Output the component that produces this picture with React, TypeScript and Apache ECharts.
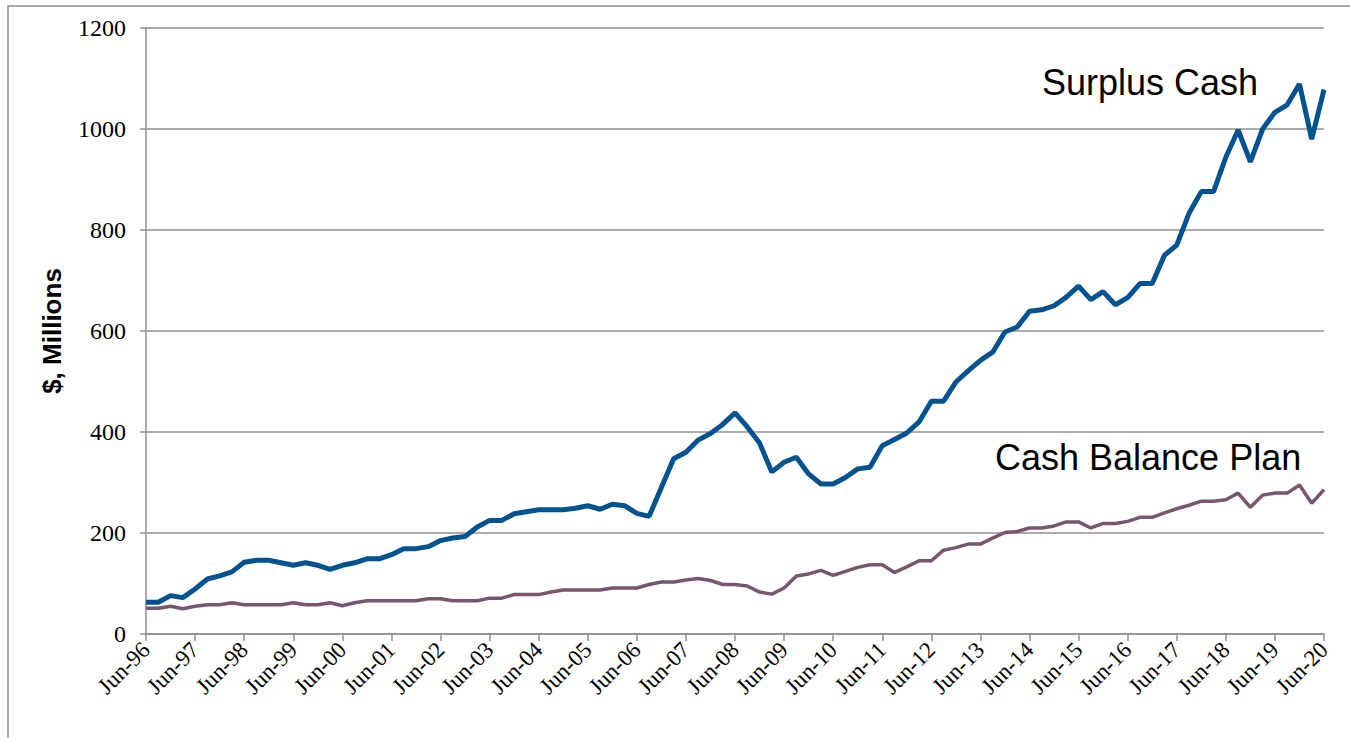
import React, { useEffect, useRef } from "react";
import * as echarts from "echarts";

const MONTHS = ["Jun", "Sep", "Dec", "Mar"];
const START_YEAR = 1996;
const QUARTER_COUNT = 97;

const categories: string[] = [];
for (let i = 0; i < QUARTER_COUNT; i++) {
  const m = MONTHS[i % 4];
  const y = m === "Mar" ? START_YEAR + Math.floor(i / 4) + 1 : START_YEAR + Math.floor(i / 4);
  categories.push(`${m}-${String(y % 100).padStart(2, "0")}`);
}

const surplusCash = [
  63, 63, 76, 72, 89, 109, 115, 123, 142, 146, 146, 141, 136, 141, 136, 128,
  136, 141, 149, 149, 157, 169, 169, 173, 185, 190, 193, 212, 225, 225, 238, 242,
  246, 246, 246, 249, 254, 247, 257, 254, 239, 233, 290, 347, 360, 384, 397, 415,
  438, 410, 378, 321, 340, 350, 317, 297, 297, 310, 327, 330, 373, 385, 398, 420,
  461, 461, 499, 521, 542, 558, 598, 608, 639, 642, 650, 667, 689, 662, 678, 652,
  666, 694, 694, 750, 770, 833, 876, 876, 944, 998, 935, 1000, 1033, 1048, 1089, 980,
  1078,
];

const cashBalancePlan = [
  51, 51, 55, 50, 55, 58, 58, 62, 58, 58, 58, 58, 62, 58, 58, 62,
  56, 62, 66, 66, 66, 66, 66, 70, 70, 66, 66, 66, 71, 71, 78, 78,
  78, 83, 87, 87, 87, 87, 91, 91, 91, 98, 103, 103, 107, 110, 106, 98,
  98, 95, 83, 79, 91, 115, 119, 126, 116, 124, 132, 137, 137, 122, 133, 145,
  145, 166, 171, 178, 178, 190, 201, 203, 210, 210, 214, 222, 222, 210, 219, 219,
  223, 231, 231, 240, 248, 255, 263, 263, 266, 279, 251, 275, 279, 279, 295, 259,
  286,
];

const Y_TICKS = [0, 200, 400, 600, 800, 1000, 1200];
const SERIES_NAMES = ["Surplus Cash", "Cash Balance Plan"];
const Y_TITLE = "$, Millions";

export default function App() {
  const ref = useRef<HTMLDivElement>(null);
  useEffect(() => {
    document.body.style.margin = "0";
    if (!ref.current) return;
    const chart = echarts.init(ref.current, undefined, { renderer: "svg" });
    const gridColor = "#8f8f8f";
    const serif = "'Liberation Serif', 'Times New Roman', serif";
    chart.setOption({
      animation: false,
      backgroundColor: "#ffffff",
      textStyle: { fontFamily: serif, fontSize: 24, color: "#000" },
      grid: { left: 146, right: 26, top: 28, bottom: 104, containLabel: false },
      xAxis: {
        type: "category",
        data: categories,
        boundaryGap: false,
        axisLine: { lineStyle: { color: gridColor, width: 1.5 } },
        axisTick: { show: true, interval: 3, length: 7, lineStyle: { color: gridColor, width: 1.5 } },
        axisLabel: {
          show: true,
          interval: 3,
          rotate: 45,
          margin: 12,
          color: "#000",
          fontFamily: serif,
          fontSize: 23,
        },
        splitLine: { show: false },
      },
      yAxis: {
        type: "value",
        min: Y_TICKS[0],
        max: Y_TICKS[Y_TICKS.length - 1],
        interval: 200,
        axisLine: { show: true, lineStyle: { color: gridColor, width: 1.5 } },
        axisTick: { show: true, length: 6, lineStyle: { color: gridColor, width: 1.5 } },
        axisLabel: {
          show: true,
          margin: 20,
          color: "#000",
          fontFamily: serif,
          fontSize: 24,
          formatter: (v: number) => String(v),
        },
        splitLine: { show: true, lineStyle: { color: gridColor, width: 1.5 } },
      },
      series: [
        {
          name: SERIES_NAMES[0],
          type: "line",
          data: surplusCash,
          showSymbol: false,
          symbol: "none",
          lineStyle: { color: "#00538F", width: 5 },
          z: 3,
        },
        {
          name: SERIES_NAMES[1],
          type: "line",
          data: cashBalancePlan,
          showSymbol: false,
          symbol: "none",
          lineStyle: { color: "#765670", width: 3.5 },
          z: 2,
        },
      ],
      graphic: [
        {
          type: "rect",
          shape: { x: 8, y: 6, width: 1500, height: 900 },
          style: { fill: "none", stroke: "#8f8f8f", lineWidth: 1.5 },
          silent: true,
          z: -1,
        },
        {
          type: "text",
          x: 52,
          y: 331,
          rotation: Math.PI / 2,
          style: {
            text: Y_TITLE,
            fontFamily: "Liberation Sans",
            fontWeight: "bold",
            fontSize: 26,
            fill: "#000",
            align: "center",
            verticalAlign: "middle",
          },
        },
        {
          type: "text",
          x: 1042,
          y: 82,
          style: {
            text: SERIES_NAMES[0],
            fontFamily: "Liberation Sans",
            fontSize: 36,
            fill: "#000",
            align: "left",
            verticalAlign: "middle",
          },
        },
        {
          type: "text",
          x: 995,
          y: 457,
          style: {
            text: SERIES_NAMES[1],
            fontFamily: "Liberation Sans",
            fontSize: 36,
            fill: "#000",
            align: "left",
            verticalAlign: "middle",
          },
        },
      ],
    });
    return () => chart.dispose();
  }, []);
  return <div ref={ref} style={{ width: 1350, height: 738 }} />;
}
